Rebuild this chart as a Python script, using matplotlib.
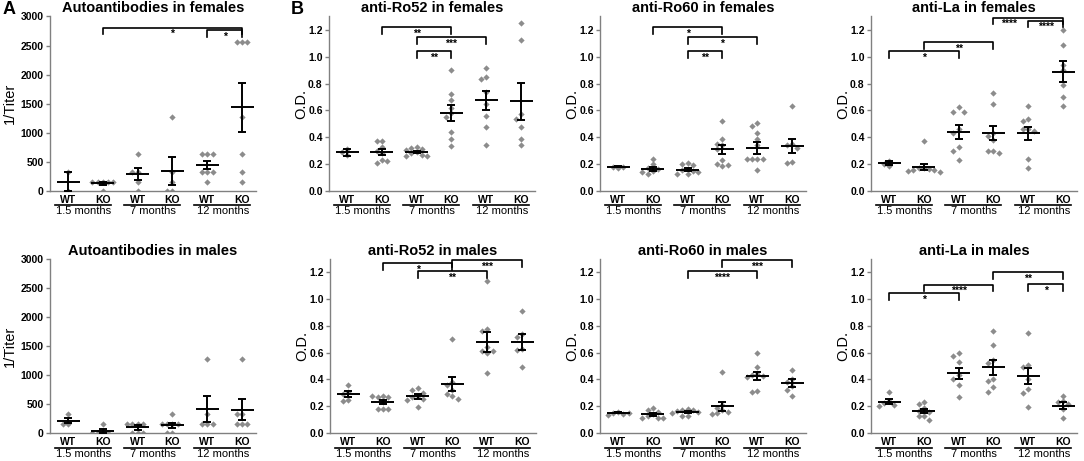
import numpy as np
import matplotlib.pyplot as plt
from matplotlib.transforms import offset_copy, blended_transform_factory

plt.rcParams['font.family'] = ['Liberation Sans', 'DejaVu Sans']

genotypes = ['WT', 'KO', 'WT', 'KO', 'WT', 'KO']
ages = ['1.5 months', '7 months', '12 months']

# ---- Autoantibody titers ----
titer_f_pts = [[0, 320], [0, 160, 160, 160, 160, 160], [0, 160, 320, 320, 640],
               [0, 0, 160, 320, 1280], [640, 640, 640, 320, 320, 320, 160],
               [2560, 2560, 2560, 1280, 640, 320, 160]]
titer_f_mean = [160, 130, 290, 350, 440, 1440]
titer_f_sem = [160, 25, 105, 240, 70, 420]

titer_m_pts = [[320, 160, 160], [160, 0, 0, 0, 0], [160, 160, 160, 160, 0, 0, 0],
               [320, 160, 160, 160, 160, 0, 0], [1280, 320, 160, 160, 160],
               [1280, 320, 320, 160, 160, 160]]
titer_m_mean = [215, 30, 95, 135, 415, 400]
titer_m_sem = [50, 32, 35, 42, 218, 178]

# ---- anti-Ro52 ----
ro52_f_pts = [[0.27, 0.29, 0.31], [0.37, 0.375, 0.33, 0.30, 0.28, 0.23, 0.21, 0.225],
              [0.33, 0.32, 0.31, 0.305, 0.29, 0.28, 0.27, 0.26, 0.26],
              [0.905, 0.725, 0.68, 0.62, 0.58, 0.55, 0.44, 0.39, 0.335],
              [0.915, 0.85, 0.835, 0.74, 0.65, 0.56, 0.475, 0.345],
              [1.255, 1.125, 0.57, 0.54, 0.48, 0.385, 0.34]]
ro52_f_mean = [0.29, 0.288, 0.29, 0.58, 0.675, 0.67]
ro52_f_sem = [0.026, 0.022, 0.007, 0.06, 0.068, 0.138]

ro52_m_pts = [[0.36, 0.31, 0.29, 0.245, 0.24], [0.275, 0.27, 0.27, 0.275, 0.23, 0.18, 0.18, 0.18],
              [0.335, 0.32, 0.30, 0.28, 0.27, 0.255, 0.25, 0.195],
              [0.705, 0.38, 0.36, 0.32, 0.29, 0.275, 0.255],
              [1.135, 0.775, 0.76, 0.64, 0.61, 0.61, 0.60, 0.45],
              [0.91, 0.74, 0.72, 0.63, 0.62, 0.49]]
ro52_m_mean = [0.29, 0.235, 0.275, 0.365, 0.68, 0.68]
ro52_m_sem = [0.022, 0.015, 0.018, 0.05, 0.072, 0.058]

# ---- anti-Ro60 ----
ro60_f_pts = [[0.175, 0.18, 0.18], [0.24, 0.20, 0.175, 0.165, 0.15, 0.14, 0.13],
              [0.205, 0.2, 0.19, 0.165, 0.16, 0.15, 0.13, 0.125, 0.14],
              [0.52, 0.385, 0.35, 0.34, 0.31, 0.23, 0.2, 0.185, 0.195],
              [0.51, 0.485, 0.43, 0.39, 0.34, 0.24, 0.24, 0.24, 0.24, 0.16],
              [0.635, 0.35, 0.34, 0.32, 0.215, 0.21]]
ro60_f_mean = [0.18, 0.165, 0.16, 0.31, 0.32, 0.335]
ro60_f_sem = [0.003, 0.015, 0.01, 0.035, 0.047, 0.055]

ro60_m_pts = [[0.155, 0.15, 0.145, 0.135, 0.15], [0.185, 0.17, 0.16, 0.14, 0.13, 0.115, 0.11, 0.11],
              [0.18, 0.175, 0.17, 0.165, 0.16, 0.15, 0.125, 0.125],
              [0.455, 0.21, 0.19, 0.17, 0.16, 0.15, 0.145],
              [0.595, 0.495, 0.44, 0.43, 0.425, 0.42, 0.315, 0.305],
              [0.47, 0.4, 0.38, 0.35, 0.32, 0.28]]
ro60_m_mean = [0.15, 0.14, 0.16, 0.2, 0.425, 0.37]
ro60_m_sem = [0.004, 0.01, 0.008, 0.035, 0.028, 0.03]

# ---- anti-La ----
la_f_pts = [[0.225, 0.2, 0.185], [0.375, 0.175, 0.17, 0.165, 0.16, 0.155, 0.15, 0.14],
            [0.625, 0.59, 0.59, 0.46, 0.43, 0.33, 0.30, 0.23],
            [0.73, 0.65, 0.43, 0.41, 0.38, 0.30, 0.30, 0.285],
            [0.635, 0.54, 0.52, 0.465, 0.465, 0.45, 0.24, 0.17],
            [1.2, 1.09, 0.94, 0.9, 0.79, 0.70, 0.635]]
la_f_mean = [0.205, 0.18, 0.44, 0.43, 0.43, 0.89]
la_f_sem = [0.015, 0.024, 0.05, 0.052, 0.048, 0.078]

la_m_pts = [[0.31, 0.24, 0.225, 0.21, 0.205], [0.23, 0.215, 0.19, 0.165, 0.16, 0.13, 0.125, 0.10],
            [0.595, 0.575, 0.53, 0.43, 0.40, 0.36, 0.27],
            [0.76, 0.655, 0.545, 0.52, 0.40, 0.385, 0.34, 0.305],
            [0.75, 0.51, 0.49, 0.40, 0.33, 0.30, 0.195],
            [0.28, 0.24, 0.235, 0.22, 0.18, 0.115]]
la_m_mean = [0.235, 0.165, 0.445, 0.49, 0.425, 0.205]
la_m_sem = [0.02, 0.018, 0.043, 0.057, 0.06, 0.025]

# significance brackets: (left group, right group, level, label[, label x])
titer_f_sig = [(1, 5, 2810, '*'), (4, 5, 2760, '*')]
ro52_f_sig = [(1, 3, 1.222, '**'), (2, 4, 1.148, '***'), (2, 3, 1.04, '**')]
ro60_f_sig = [(1, 3, 1.222, '*'), (2, 4, 1.148, '*'), (2, 3, 1.04, '**')]
la_f_sig = [(0, 2, 1.04, '*'), (1, 3, 1.11, '**'), (3, 5, 1.29, '****', 3.45), (4, 5, 1.27, '****')]
ro52_m_sig = [(1, 3, 1.27, '*'), (3, 5, 1.292, '***'), (2, 4, 1.21, '**')]
ro60_m_sig = [(2, 4, 1.21, '****'), (3, 5, 1.29, '***')]
la_m_sig = [(0, 2, 1.045, '*'), (1, 3, 1.108, '****'), (3, 5, 1.2, '**'), (4, 5, 1.11, '*')]

panels = [
    ('Autoantibodies in females', '1/Titer', titer_f_pts, titer_f_mean, titer_f_sem, titer_f_sig, 50, 0),
    ('anti-Ro52 in females', 'O.D.', ro52_f_pts, ro52_f_mean, ro52_f_sem, ro52_f_sig, 329, 0),
    ('anti-Ro60 in females', 'O.D.', ro60_f_pts, ro60_f_mean, ro60_f_sem, ro60_f_sig, 600, 0),
    ('anti-La in females', 'O.D.', la_f_pts, la_f_mean, la_f_sem, la_f_sig, 871, 0),
    ('Autoantibodies in males', '1/Titer', titer_m_pts, titer_m_mean, titer_m_sem, [], 50, 1),
    ('anti-Ro52 in males', 'O.D.', ro52_m_pts, ro52_m_mean, ro52_m_sem, ro52_m_sig, 330, 1),
    ('anti-Ro60 in males', 'O.D.', ro60_m_pts, ro60_m_mean, ro60_m_sem, ro60_m_sig, 600, 1),
    ('anti-La in males', 'O.D.', la_m_pts, la_m_mean, la_m_sem, la_m_sig, 871, 1),
]

W, H = 1084, 461
fig = plt.figure(figsize=(W / 100, H / 100), dpi=100)
grey = '#808080'


def swarm(vals, span):
    placed = []
    offs = []
    thr = span * 0.028
    d = 0.15
    for v in vals:
        off = 0
        for k in [0, -1, 1, -2, 2, -3, 3, -4, 4]:
            off = k * d
            if all(abs(v - pv) > thr or abs(off - po) > d * 0.9 for pv, po in placed):
                break
        placed.append((v, off))
        offs.append(off)
    return offs


for title, ylab, pts, means, sems, sig, left_px, row in panels:
    if row == 0:
        bottom_px, top_px = 191, 16.5
    else:
        bottom_px, top_px = 433, 259
    ax = fig.add_axes([left_px / W, 1 - bottom_px / H, 206 / W, (bottom_px - top_px) / H])
    is_titer = ylab == '1/Titer'
    ymax = 3000 if is_titer else 1.3
    ax.set_ylim(0, ymax)
    ax.set_xlim(-0.52, 5.4)
    x = np.arange(6)

    for i in range(6):
        offs = swarm(pts[i], ymax)
        ax.plot(x[i] + np.array(offs), pts[i], 'D', ms=3.2, color='#8c8c8c', mec='none', zorder=2)
        ax.hlines(means[i], x[i] - 0.33, x[i] + 0.33, color='k', lw=1.4, zorder=3)
        ax.errorbar(x[i], means[i], yerr=sems[i], fmt='none', ecolor='k', elinewidth=1.4,
                    capsize=3.2, capthick=1.4, zorder=3)

    drop = ymax * 0.038
    star_tr = offset_copy(ax.transData, fig=fig, x=0, y=-1.5, units='dots')
    for comp in sig:
        a, b, lvl, lab = comp[:4]
        sx = comp[4] if len(comp) > 4 else (x[a] + x[b]) / 2
        ax.plot([x[a], x[a], x[b], x[b]], [lvl - drop, lvl, lvl, lvl - drop], color='k',
                lw=1.2, clip_on=False, zorder=4)
        ax.text(sx, lvl, lab, transform=star_tr, ha='center', va='top',
                fontsize=7.5, fontweight='bold')

    for s in ['top', 'right']:
        ax.spines[s].set_visible(False)
    for s in ['left', 'bottom']:
        ax.spines[s].set_color(grey)
        ax.spines[s].set_linewidth(1)
    ax.set_xticks([])
    if is_titer:
        ticks = np.arange(0, 3001, 500)
        labels = [str(t) for t in ticks]
    else:
        ticks = np.arange(0, 1.21, 0.2)
        labels = ['%.1f' % t for t in ticks]
    ax.set_yticks(ticks)
    ax.set_yticklabels(labels, fontsize=7.5, fontweight='bold')
    ax.tick_params(axis='y', length=3, width=1, color=grey, pad=1.5)

    ax.set_title(title, fontsize=10.5, fontweight='bold', pad=3)
    ax.set_ylabel(ylab, fontsize=10.5)
    ax.yaxis.set_label_coords(-0.16 if is_titer else -0.1, 0.5)

    base = blended_transform_factory(ax.transData, ax.transAxes)
    gt = offset_copy(base, fig=fig, x=0, y=-9, units='dots')
    lt = offset_copy(base, fig=fig, x=0, y=-14.5, units='dots')
    mt = offset_copy(base, fig=fig, x=0, y=-20.5, units='dots')
    for i in range(6):
        ax.text(x[i], 0, genotypes[i], transform=gt, ha='center', va='center',
                fontsize=7.5, fontweight='bold')
    for g in range(3):
        ax.plot([2 * g - 0.38, 2 * g + 1.22], [0, 0], color='k', lw=1.2, transform=lt,
                clip_on=False)
        ax.text(2 * g + 0.45, 0, ages[g], transform=mt, ha='center', va='center', fontsize=8)

fig.text(3 / W, 1 - 9 / H, 'A', fontsize=13, fontweight='bold', va='center')
fig.text(291 / W, 1 - 9 / H, 'B', fontsize=13, fontweight='bold', va='center')

fig.savefig('out.png', dpi=100)
